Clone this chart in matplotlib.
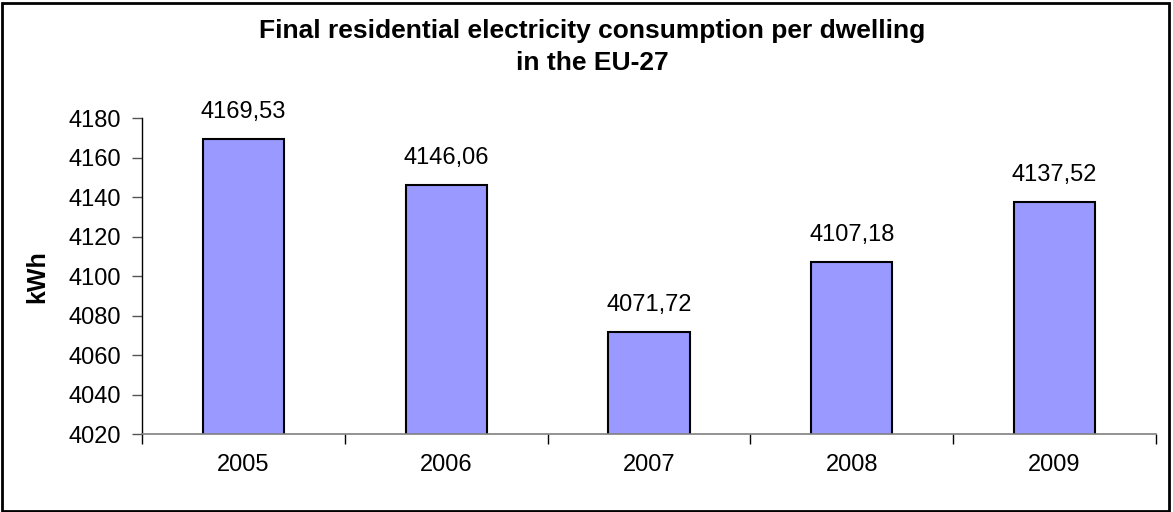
import matplotlib.pyplot as plt
from matplotlib.patches import Rectangle
import numpy as np

plt.rcParams['font.family'] = ['Liberation Sans', 'DejaVu Sans']

years = ['2005', '2006', '2007', '2008', '2009']
kwh = [4169.53, 4146.06, 4071.72, 4107.18, 4137.52]
yticks = [4020, 4040, 4060, 4080, 4100, 4120, 4140, 4160, 4180]

fig = plt.figure(figsize=(11.73, 5.12), dpi=100)
ax = fig.add_axes([0.121, 0.152, 0.8645, 0.617])

x = np.arange(len(years))
ax.bar(x, kwh, width=0.4, color='#9999FF', edgecolor='black', linewidth=1.5,
       bottom=0, zorder=2)
# value labels above each bar, decimal comma
for xi, v in zip(x, kwh):
    ax.text(xi, v + 8, f'{v:.2f}'.replace('.', ','), ha='center', va='bottom',
            fontsize=17)

ax.set_ylim(4020, 4180)
ax.set_xlim(-0.5, len(years) - 0.5)
ax.set_yticks(yticks)
ax.set_yticklabels([str(t) for t in yticks], fontsize=17)
ax.set_xticks(x)
ax.set_xticklabels(years, fontsize=17)
ax.tick_params(axis='x', length=0, pad=14)
# tick marks between categories
ax.set_xticks(np.arange(-0.5, len(years)), minor=True)
ax.tick_params(axis='x', which='minor', length=7, width=1, color='black', direction='out')
ax.tick_params(axis='y', length=7, width=1, color='#555555', pad=8)

ax.spines['top'].set_visible(False)
ax.spines['right'].set_visible(False)
ax.spines['left'].set_color('black')
ax.spines['bottom'].set_color('#808080')
ax.spines['left'].set_linewidth(1)
ax.spines['bottom'].set_linewidth(1.2)

ax.set_ylabel('kWh', fontsize=18, fontweight='bold', labelpad=14)

fig.text(0.505, 0.962, 'Final residential electricity consumption per dwelling\nin the EU-27',
         ha='center', va='top', fontsize=19, fontweight='bold', linespacing=1.38)

fig.patches.append(Rectangle((0.002, 0.002), 0.995, 0.993, transform=fig.transFigure,
                             fill=False, edgecolor='black', linewidth=2))

fig.savefig('out.png', dpi=100)
